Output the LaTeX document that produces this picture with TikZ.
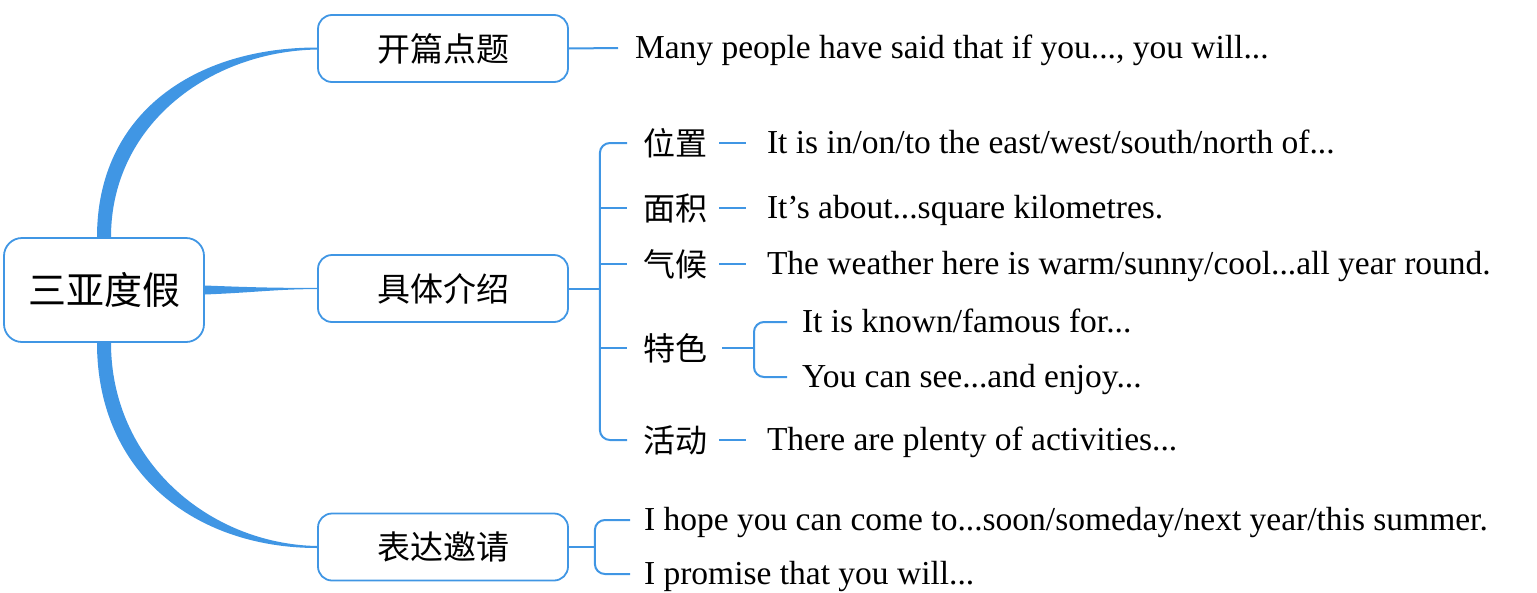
\documentclass[tikz,border=0pt]{standalone}
\usepackage{fontspec}
\setmainfont{Liberation Serif}
\newfontfamily\cjk{Noto Sans CJK SC}
\usetikzlibrary{calc}
\definecolor{mapblue}{RGB}{64,150,228}

\begin{document}
\begin{tikzpicture}[x=1pt,y=-1pt,draw=mapblue,line width=2pt]
    \tikzstyle{box}=[draw=mapblue,rounded corners=14pt,line width=1.8pt,minimum width=250pt,minimum height=67pt,inner sep=0pt,font=\cjk\fontsize{33}{40}\selectfont]
    \tikzstyle{root box}=[box,minimum width=200pt,minimum height=104pt,rounded corners=18pt,font=\cjk\fontsize{38}{46}\selectfont]
    \tikzstyle{keyword}=[anchor=west,inner sep=0pt,font=\cjk\fontsize{32}{38}\selectfont]
    \tikzstyle{sentence}=[anchor=west,inner sep=0pt,text height=26pt,text depth=6pt,font=\fontsize{33.5}{40}\selectfont]
    \tikzstyle{limb}=[fill=mapblue,draw=none]
    \tikzstyle{twig}=[rounded corners=10pt]

    \useasboundingbox (0,0) rectangle (1537,592);

    % Draw the root and the three boxes
    \node[root box] (root) at (104,290) {三亚度假};
    \node[box] (opening) at (443,48.5) {开篇点题};
    \node[box] (detail) at (443,288.5) {具体介绍};
    \node[box] (invite) at (443,547) {表达邀请};

    % Draw the thick limbs from the root to the boxes
    \fill[limb] ([xshift=-7pt]root.north) .. controls +(0,-124) and +(-122,0) .. ([yshift=1pt]opening.west)
        -- ([yshift=-1pt]opening.west) .. controls +(-108,2) and +(0,-112) .. ([xshift=7pt]root.north) -- cycle;
    \fill[limb] ([yshift=4.5pt]root.east) .. controls +(50,2) and +(-40,0) .. ([yshift=0.6pt]detail.west)
        -- ([yshift=-0.6pt]detail.west) .. controls +(-40,0) and +(50,-2) .. ([yshift=-4.5pt]root.east) -- cycle;
    \fill[limb] ([xshift=-7pt]root.south) .. controls +(0,130) and +(-122,0) .. ([yshift=-1pt]invite.west)
        -- ([yshift=1pt]invite.west) .. controls +(-108,-2) and +(0,118) .. ([xshift=7pt]root.south) -- cycle;

    % Opening
    \node[sentence] (S-many) at (634,48) {Many people have said that if you..., you will...};
    \draw (opening.east) -- ([xshift=-16pt]S-many.west);

    % Draw the keywords of the details
    \foreach \name/\word/\y in {place/位置/143, area/面积/208, climate/气候/264, feature/特色/348, activity/活动/440}
        \node[keyword] (\name) at (642,\y) {\word};

    \node[sentence] (S-place) at (766,143) {It is in/on/to the east/west/south/north of...};
    \node[sentence] (S-area) at (766,208) {It’s about...square kilometres.};
    \node[sentence] (S-climate) at (766,264) {The weather here is warm/sunny/cool...all year round.};
    \node[sentence] (S-known) at (801,322) {It is known/famous for...};
    \node[sentence] (S-see) at (801,377) {You can see...and enjoy...};
    \node[sentence] (S-activity) at (766,440) {There are plenty of activities...};

    % Connect the details box with every keyword
    \coordinate (fork) at ([xshift=31pt]detail.east);
    \draw (detail.east) -- (fork);
    \draw[twig] ([xshift=-15pt]place.west) -| (fork) |- ([xshift=-15pt]activity.west);
    \foreach \name in {area,climate,feature}
        \draw (fork |- \name.west) -- ([xshift=-15pt]\name.west);

    % Connect every keyword with its sentence
    \foreach \name in {place,area,climate,activity}
        \draw ([xshift=11pt]\name.east) -- ([xshift=-20pt]S-\name.west);

    \coordinate (subfork) at ([xshift=46pt]feature.east);
    \draw ([xshift=14pt]feature.east) -- (subfork);
    \draw[twig] ([xshift=-14pt]S-known.west) -| (subfork) |- ([xshift=-14pt]S-see.west);

    % Invitation
    \node[sentence] (S-hope) at (643,520) {I hope you can come to...soon/someday/next year/this summer.};
    \node[sentence] (S-promise) at (643,574) {I promise that you will...};
    \coordinate (invfork) at ([xshift=26pt]invite.east);
    \draw (invite.east) -- (invfork);
    \draw[twig] ([xshift=-13pt]S-hope.west) -| (invfork) |- ([xshift=-13pt]S-promise.west);
\end{tikzpicture}
\end{document}
